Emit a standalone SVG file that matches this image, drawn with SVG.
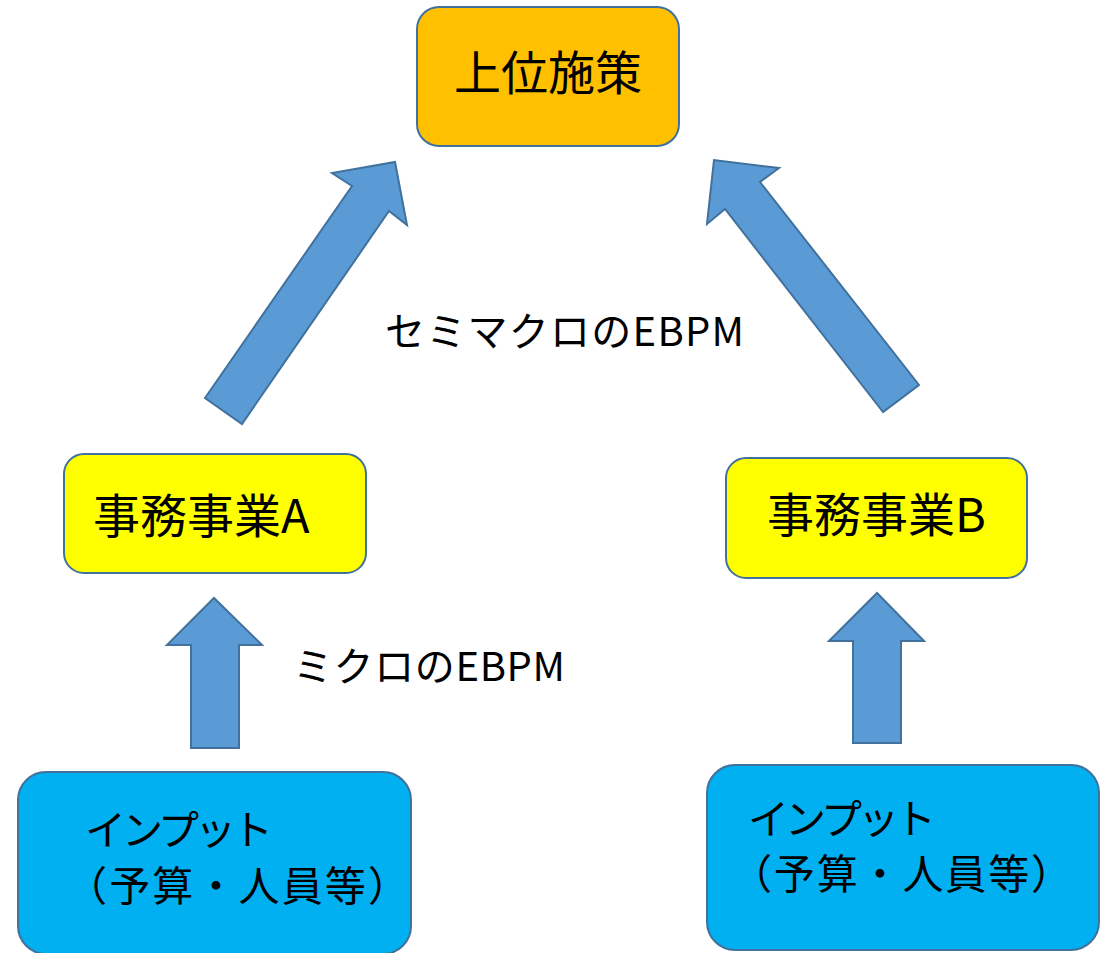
<svg xmlns="http://www.w3.org/2000/svg" width="1109" height="953" viewBox="0 0 1109 953">
<style>
.t{font-family:"Noto Sans CJK JP","Noto Sans",sans-serif;fill:#000}
.box{stroke:#41719C;stroke-width:2}
.arr{fill:#5B9BD5;stroke:#41719C;stroke-width:2;stroke-linejoin:miter}
</style>
<rect width="1109" height="953" fill="#fff"/>
<g id="connectors">
<polygon class="arr" points="205,398 352,186 332,173 395,162 407,225 389,211 242,424"/>
<polygon class="arr" points="883,412 725,209 707,224 714,160 779,168 760,182 919,385"/>
<polygon class="arr" points="191,748 191,645 167,645 214,598 262,645 239,645 239,748"/>
<polygon class="arr" points="853,743 853,641 829,641 877,593 924,641 901,641 901,743"/>
</g>
<g id="label-semimacro"><text class="t" x="385" y="346" font-size="40" textLength="359" lengthAdjust="spacing">セミマクロのEBPM</text></g>
<g id="label-micro"><text class="t" x="293" y="681" font-size="40" textLength="272" lengthAdjust="spacing">ミクロのEBPM</text></g>
<g id="node-top">
<rect class="box" x="417" y="7" width="262" height="139" rx="22" fill="#FFC000"/>
<text class="t" x="548" y="90" font-size="47" text-anchor="middle">上位施策</text>
</g>
<g id="node-a">
<rect class="box" x="64" y="454" width="302" height="119" rx="20" fill="#FFFF00"/>
<text class="t" x="93" y="533" font-size="47">事務事業A</text>
</g>
<g id="node-b">
<rect class="box" x="726" y="458" width="301" height="120" rx="20" fill="#FFFF00"/>
<text class="t" x="767" y="532" font-size="47">事務事業B</text>
</g>
<g id="node-input-a">
<rect class="box" x="18" y="772" width="393" height="182" rx="28" fill="#00B0F0"/>
<text class="t" x="85" y="845" font-size="41" textLength="188" lengthAdjust="spacing">インプット</text>
<text class="t" x="66" y="901" font-size="41" textLength="343" lengthAdjust="spacing">（予算・人員等）</text>
</g>
<g id="node-input-b">
<rect class="box" x="707" y="765" width="392" height="185" rx="28" fill="#00B0F0"/>
<text class="t" x="748" y="834" font-size="41" textLength="188" lengthAdjust="spacing">インプット</text>
<text class="t" x="731" y="889" font-size="41" textLength="341" lengthAdjust="spacing">（予算・人員等）</text>
</g>
</svg>
